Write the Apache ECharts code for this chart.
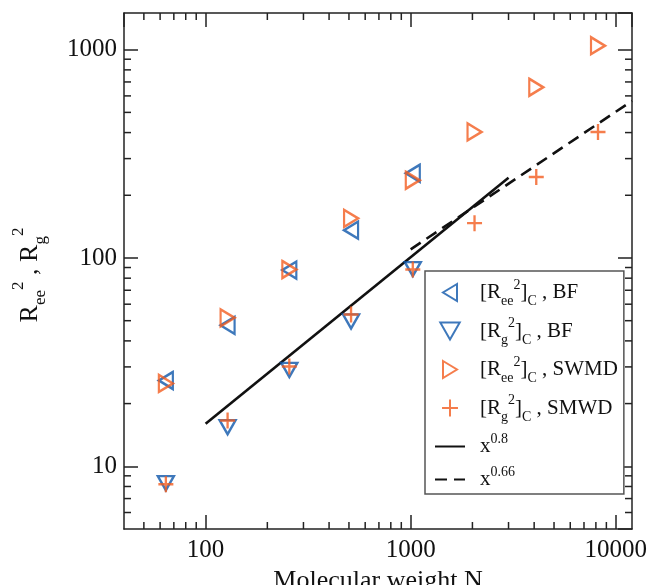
<!DOCTYPE html>
<html>
<head>
<meta charset="utf-8">
<script src="https://cdn.jsdelivr.net/npm/echarts@6/dist/echarts.min.js"></script>
<style>
  html, body { margin: 0; padding: 0; background: #fff; }
  #chart { width: 652px; height: 585px; }
</style>
</head>
<body>
<div id="chart"></div>
<script>
// Chain lengths (molecular weight N)
const chainN = [64, 128, 256, 512, 1024];
const chainNLong = [64, 128, 256, 512, 1024, 2048, 4096, 8192];

// Mean squared end-to-end distance and radius of gyration
const reeBF = [25.8, 47.5, 87.5, 136, 255];
const rgBF = [8.3, 15.4, 29.0, 49.6, 88.5];
const reeSWMD = [25.0, 51.6, 88, 155, 236, 403, 660, 1045];
const rgSMWD = [8.2, 16.6, 30.1, 53.6, 88, 147, 245, 403];

// Power-law guide lines, given by their end points
const fit08 = [[100, 16], [3000, 243]];
const fit066 = [[1000, 110], [12000, 568]];

// Axis ranges, labelled decades and minor tick positions
const xRange = [40, 12000];
const yRange = [5, 1500];
const xTickLabels = ['100', '1000', '10000'];
const yTickLabels = ['10', '100', '1000'];
const xMinorTicks = [50, 60, 70, 80, 90, 200, 300, 400, 500, 600, 700, 800, 900,
                     2000, 3000, 4000, 5000, 6000, 7000, 8000, 9000];
const yMinorTicks = [6, 7, 8, 9, 20, 30, 40, 50, 60, 70, 80, 90,
                     200, 300, 400, 500, 600, 700, 800, 900];

const FONT = '"Liberation Serif", "DejaVu Serif", serif';
const BLUE = '#0e56aa';
const ORANGE = '#f25c1f';
const INK = '#222';

const SYM_LEFT = 'path://M14,0 L0,8.5 L14,17 Z';
const SYM_RIGHT = 'path://M0,0 L14,8.5 L0,17 Z';
const SYM_DOWN = 'path://M0,0 L16,0 L8,14 Z';
const SYM_PLUS = 'path://M7.5,0 L7.5,16 M0,8 L15,8';

const names = {
  reeBF: '[Ree2]C, BF',
  rgBF: '[Rg2]C, BF',
  reeSWMD: '[Ree2]C, SWMD',
  rgSMWD: '[Rg2]C, SMWD',
  fit08: 'x^0.8',
  fit066: 'x^0.66'
};
const legendText = {
  [names.reeBF]: '{n|[R}{sb|ee}{sp|2}{n|]}{sb|C}{n| , BF}',
  [names.rgBF]: '{n|[R}{sb|g}{sp|2}{n|]}{sb|C}{n| , BF}',
  [names.reeSWMD]: '{n|[R}{sb|ee}{sp|2}{n|]}{sb|C}{n| , SWMD}',
  [names.rgSMWD]: '{n|[R}{sb|g}{sp|2}{n|]}{sb|C}{n| , SMWD}',
  [names.fit08]: '{n|x}{sp|0.8}',
  [names.fit066]: '{n|x}{sp|0.66}'
};

function decadeLabel(list) {
  return function (v) {
    const r = Math.round(v);
    return (Math.abs(v - r) < 1e-6 && list.indexOf(String(r)) >= 0) ? String(r) : '';
  };
}

function frameAxis(kind, position, showLabels, labels) {
  return {
    type: 'log',
    logBase: 10,
    position: position,
    min: kind === 'x' ? xRange[0] : yRange[0],
    max: kind === 'x' ? xRange[1] : yRange[1],
    axisLine: { show: true, lineStyle: { color: INK, width: 1.5 } },
    axisTick: { show: true, inside: true, length: 14, lineStyle: { color: INK, width: 1.5 } },
    minorTick: { show: false },
    splitLine: { show: false },
    axisLabel: {
      show: showLabels,
      fontFamily: FONT,
      fontSize: 25,
      color: '#111',
      margin: kind === 'x' ? 9 : 7,
      showMinLabel: false,
      showMaxLabel: false,
      formatter: decadeLabel(labels || [])
    }
  };
}

// Short inward ticks at the non-decade positions, on both facing sides of the frame
function minorTicks(values, kind) {
  return {
    type: 'custom',
    silent: true,
    clip: false,
    z: 5,
    data: values.map(v => kind === 'x' ? [v, yRange[0]] : [xRange[0], v]),
    renderItem: function (params, api) {
      const cs = params.coordSys;
      const p = api.coord([api.value(0), api.value(1)]);
      const st = { stroke: INK, lineWidth: 1.5 };
      const len = 7;
      if (kind === 'x') {
        const b = cs.y + cs.height, t = cs.y;
        return { type: 'group', children: [
          { type: 'line', shape: { x1: p[0], y1: b, x2: p[0], y2: b - len }, style: st },
          { type: 'line', shape: { x1: p[0], y1: t, x2: p[0], y2: t + len }, style: st }
        ] };
      }
      const l = cs.x, r = cs.x + cs.width;
      return { type: 'group', children: [
        { type: 'line', shape: { x1: l, y1: p[1], x2: l + len, y2: p[1] }, style: st },
        { type: 'line', shape: { x1: r, y1: p[1], x2: r - len, y2: p[1] }, style: st }
      ] };
    }
  };
}

function markerSeries(name, xs, ys, symbol, size, color) {
  return {
    name: name,
    type: 'scatter',
    z: 3,
    data: xs.map((x, i) => [x, ys[i]]),
    symbol: symbol,
    symbolSize: size,
    itemStyle: { color: 'rgba(0,0,0,0)', borderColor: color, borderWidth: 2.4 },
    emphasis: { disabled: true }
  };
}

function guideSeries(name, pts, type) {
  return {
    name: name,
    type: 'line',
    z: 2,
    data: pts,
    symbol: 'none',
    silent: true,
    itemStyle: { color: 'rgba(0,0,0,0)', borderWidth: 0 },
    lineStyle: { color: '#111', width: 2.6, type: type }
  };
}

const xAxisMain = frameAxis('x', 'bottom', true, xTickLabels);
xAxisMain.name = 'Molecular weight N';
xAxisMain.nameLocation = 'middle';
xAxisMain.nameGap = 36;
xAxisMain.nameTextStyle = { fontFamily: FONT, fontSize: 26, color: '#111' };

const yAxisMain = frameAxis('y', 'left', true, yTickLabels);
yAxisMain.name = '{n|R}{sb|ee}{sp|2}{n| , R}{sb|g}{sp|2}';
yAxisMain.nameLocation = 'middle';
yAxisMain.nameRotate = 90;
yAxisMain.nameGap = 73;
yAxisMain.nameTextStyle = {
  fontFamily: FONT, color: '#111', padding: [0, 8, 0, 0],
  rich: {
    n: { fontFamily: FONT, fontSize: 26, lineHeight: 41, color: '#111' },
    sp: { fontFamily: FONT, fontSize: 17, height: 17, verticalAlign: 'top', color: '#111' },
    sb: { fontFamily: FONT, fontSize: 17, height: 20, verticalAlign: 'bottom', color: '#111' }
  }
};

const chart = echarts.init(document.getElementById('chart'), null, { renderer: 'canvas' });
chart.setOption({
  animation: false,
  backgroundColor: '#fff',
  grid: { left: 124, right: 20, top: 13, bottom: 56, containLabel: false, outerBoundsMode: 'none' },
  xAxis: [xAxisMain, frameAxis('x', 'top', false)],
  yAxis: [yAxisMain, frameAxis('y', 'right', false)],
  legend: {
    orient: 'vertical',
    left: 425,
    top: 271,
    padding: [7, 6, 4, 9],
    itemGap: 8,
    itemWidth: 30,
    itemHeight: 17,
    selectedMode: false,
    backgroundColor: '#fff',
    borderColor: '#555',
    borderWidth: 1.5,
    z: 10,
    data: [names.reeBF, names.rgBF, names.reeSWMD, names.rgSMWD, names.fit08, names.fit066],
    formatter: n => legendText[n],
    textStyle: {
      fontFamily: FONT, fontSize: 21, color: '#111', padding: [0, 0, 0, 10],
      rich: {
        n: { fontFamily: FONT, fontSize: 21, lineHeight: 30, color: '#111' },
        sp: { fontFamily: FONT, fontSize: 14, height: 15, verticalAlign: 'top', color: '#111' },
        sb: { fontFamily: FONT, fontSize: 14, height: 12, verticalAlign: 'bottom', color: '#111' }
      }
    }
  },
  series: [
    markerSeries(names.reeBF, chainN, reeBF, SYM_LEFT, [14, 17], BLUE),
    markerSeries(names.rgBF, chainN, rgBF, SYM_DOWN, [16, 14], BLUE),
    markerSeries(names.reeSWMD, chainNLong, reeSWMD, SYM_RIGHT, [14, 17], ORANGE),
    markerSeries(names.rgSMWD, chainNLong, rgSMWD, SYM_PLUS, [15, 16], ORANGE),
    guideSeries(names.fit08, fit08, 'solid'),
    guideSeries(names.fit066, fit066, [12, 7]),
    minorTicks(xMinorTicks, 'x'),
    minorTicks(yMinorTicks, 'y')
  ]
});
</script>
</body>
</html>
